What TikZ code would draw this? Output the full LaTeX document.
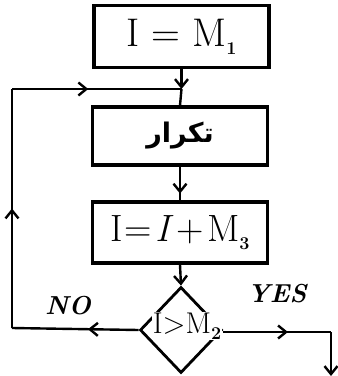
\documentclass[tikz,border=0pt]{standalone}
\usepackage{fontspec}
\newfontfamily\arabicfont[Script=Arabic]{DejaVu Sans}
\TeXXeTstate=1
\usetikzlibrary{arrows.meta,decorations.markings,shapes.geometric}
\newcommand{\lowsub}[2][8pt]{\raisebox{-#1}{\fontsize{18}{18}\selectfont\bfseries #2}}
\begin{document}
\begin{tikzpicture}[x=1pt,y=-1pt,
  box/.style={draw, line width=3.4pt, minimum width=175pt, minimum height=60pt, inner sep=0pt},
  conn/.style={line width=2.4pt},
  tip/.style={-{Straight Barb[length=8pt,width=13pt]}},
  midarrow/.style={postaction={decorate},decoration={markings, mark=at position #1 with {\arrow{Straight Barb[length=8pt,width=13pt]}}}}
]
\useasboundingbox (0,0) rectangle (338,376);
\node[box, minimum height=62pt] (b1) at (181.5,36.5) {\fontsize{40}{40}\selectfont I = M\lowsub{1}};
\node[box, minimum height=58pt] (b2) at (180,136) {\fontsize{27}{27}\selectfont\arabicfont\bfseries\beginR تكرار\endR};
\node[box, minimum height=61pt] (b3) at (180,232.5) {\fontsize{38}{38}\selectfont I\kern2pt=\kern3pt\textit{I}\kern3pt+\kern3pt M\lowsub{3}};
\node[diamond, draw, line width=2.8pt, minimum width=82pt, minimum height=86pt, inner sep=0pt] (d) at (181,330) {};
\node[inner sep=1pt, fill=white] (dl) at (187,326) {\fontsize{30}{30}\selectfont I>M\lowsub[6pt]{2}};
\node (no) at (68,306) {\fontsize{26}{26}\selectfont\bfseries\itshape NO};
\node (yes) at (277,294) {\fontsize{26}{26}\selectfont\bfseries\itshape YES};
\coordinate (j) at (181.5,89);
\coordinate (lc) at (12,89);
\coordinate (lb) at (12,328);
\coordinate (yc) at (331,332);
\coordinate (ye) at (331,376);
\draw[conn, tip] (b1.south) -- (j);
\draw[conn] (j) -- (b2.north);
\draw[conn, midarrow=0.8] (b2.south) -- (b3.north);
\draw[conn, tip] (b3.south) -- (d.north);
\draw[conn, midarrow=0.4] (d.west) -- (lb);
\draw[conn, midarrow=0.5] (lb) -- (lc);
\draw[conn, midarrow=0.45] (lc) -- (j);
\draw[conn, midarrow=0.6] (d.east |- yc) -- (yc);
\draw[conn, tip] (yc) -- (ye);
\end{tikzpicture}
\end{document}
